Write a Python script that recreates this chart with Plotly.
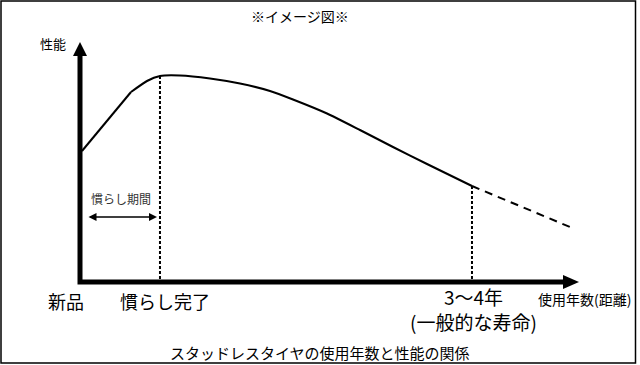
import plotly.graph_objects as go

# ---- data (arbitrary usage / performance units) ----
usage = [0.4, 10.24, 13.45, 16.06, 20.08, 26.10, 32.13, 38.15, 42.77, 49.60, 56.22, 62.85, 69.68, 78.71]
performance = [54.81, 79.50, 84.10, 86.19, 86.40, 85.15, 83.05, 79.92, 76.36, 70.50, 63.60, 56.49, 49.37, 40.17]
extrap_usage = [78.71, 98.4]
extrap_performance = [40.17, 23.0]
breakin_end = 16.06     # 慣らし完了
lifetime = 78.71        # 3〜4年

title_top = "※イメージ図※"
caption = "スタッドレスタイヤの使用年数と性能の関係"
y_label = "性能"
x_label = "使用年数(距離)"
tick_labels = ["新品", "慣らし完了", "3〜4年<br>(一般的な寿命)"]
period_label = "慣らし期間"

W, H = 640, 365
# pixel geometry of the axis frame (origin / axis ends)
OX, OY = 80, 282
XEND, YEND = 578, 43
SX = (XEND - OX) / 100.0
SY = (OY - YEND) / 100.0


def px2x(px):
    return (px - OX) / SX


def px2y(py):
    return (OY - py) / SY


FONT = "Noto Sans CJK JP"

fig = go.Figure()

# axes (thick lines)
fig.add_trace(go.Scatter(
    x=[0, 0, px2x(565)], y=[px2y(55), 0, 0], mode="lines",
    line=dict(color="black", width=5), hoverinfo="skip", showlegend=False))

# main curve
fig.add_trace(go.Scatter(x=usage[:2], y=performance[:2], mode="lines",
                         line=dict(color="black", width=2), showlegend=False))
fig.add_trace(go.Scatter(x=usage[1:], y=performance[1:], mode="lines",
                         line=dict(color="black", width=2, shape="spline", smoothing=0.5),
                         showlegend=False))
# extrapolation
fig.add_trace(go.Scatter(x=extrap_usage, y=extrap_performance, mode="lines",
                         line=dict(color="black", width=2, dash="8px,6px"), showlegend=False))

# vertical dotted guides
for xv in [breakin_end, lifetime]:
    yv = performance[usage.index(xv)]
    fig.add_trace(go.Scatter(x=[xv, xv], y=[yv, 0], mode="lines",
                             line=dict(color="black", width=2, dash="3px,2px"),
                             showlegend=False))

shapes = [
    # arrowheads of axes
    dict(type="path", xref="x", yref="y",
         path=f"M {px2x(80)} {px2y(42)} L {px2x(73)} {px2y(56)} L {px2x(87)} {px2y(56)} Z",
         fillcolor="black", line=dict(width=0)),
    dict(type="path", xref="x", yref="y",
         path=f"M {px2x(579)} {px2y(282)} L {px2x(563)} {px2y(275)} L {px2x(563)} {px2y(289)} Z",
         fillcolor="black", line=dict(width=0)),
    # frame
    dict(type="rect", xref="paper", yref="paper",
         x0=1.0 / W, x1=635.5 / W, y0=1 - 363.0 / H, y1=1 - 1.0 / H,
         line=dict(color="black", width=1.5), fillcolor="rgba(0,0,0,0)"),
]

ann = []


def text(s, px, py, size, color="black", xanchor="center"):
    ann.append(dict(x=px2x(px), y=px2y(py), xref="x", yref="y", text=s, showarrow=False,
                    xanchor=xanchor, yanchor="middle",
                    font=dict(family=FONT, size=size, color=color)))


text(title_top, 300, 16, 14)
text(y_label, 53, 43, 13)
text(tick_labels[0], 66, 301, 18)
text(tick_labels[1], 165, 301, 18)
ann.append(dict(x=px2x(473), y=px2y(309), xref="x", yref="y", text=tick_labels[2],
                showarrow=False, xanchor="center", yanchor="middle", align="center",
                font=dict(family=FONT, size=19, color="black")))
text(x_label, 584, 299, 14)
text(caption, 320, 352, 15)
text(period_label, 121, 198, 12, color="#333333")

# double arrow for break-in period
ann.append(dict(x=px2x(157), y=px2y(217), ax=px2x(87), ay=px2y(217),
                xref="x", yref="y", axref="x", ayref="y", text="", showarrow=True,
                arrowside="end+start", arrowhead=2, arrowsize=1, arrowwidth=1.6,
                arrowcolor="black"))

fig.update_layout(
    width=W, height=H, margin=dict(l=0, r=0, t=0, b=0),
    paper_bgcolor="white", plot_bgcolor="white",
    xaxis=dict(range=[px2x(0), px2x(W)], visible=False, fixedrange=True),
    yaxis=dict(range=[px2y(H), px2y(0)], visible=False, fixedrange=True),
    shapes=shapes, annotations=ann, showlegend=False,
)

fig.write_html("out.html", config={"displayModeBar": False},
               post_script="document.body.style.margin='0';document.body.style.overflow='hidden';")
